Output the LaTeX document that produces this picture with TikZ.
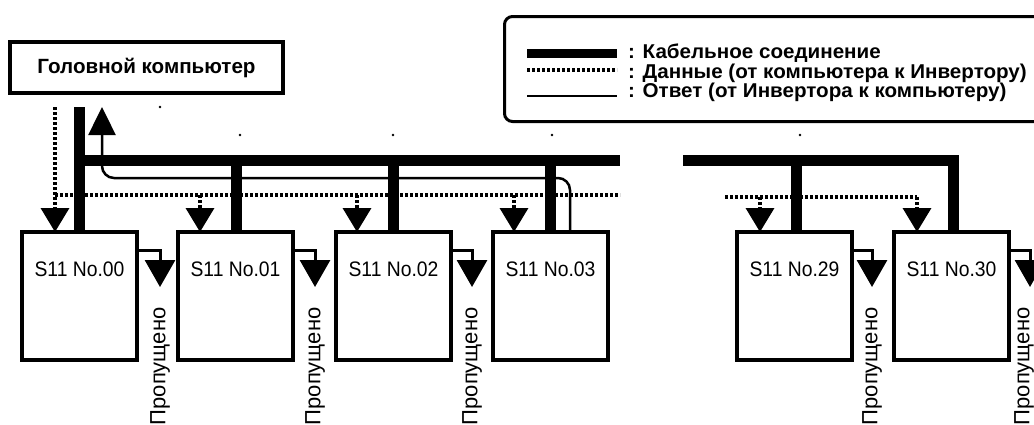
\documentclass[tikz,border=0pt]{standalone}
\usepackage{fontspec}
\setmainfont{Liberation Sans}
\newfontfamily\narrowfont[FakeStretch=0.92]{Liberation Sans}
\newfontfamily\widefont[FakeStretch=1.03]{Liberation Sans}
\usetikzlibrary{arrows.meta}

\begin{document}
\begin{tikzpicture}[
  x=1pt, y=-1pt,
  hostbox/.style={draw, line width=4.5pt, minimum width=273pt, minimum height=51pt, inner sep=0pt, font=\bfseries\fontsize{20.6}{22}\selectfont},
  unit/.style={draw, line width=3.5pt, minimum width=115pt, minimum height=128pt, anchor=north west, inner sep=0pt, outer sep=0pt},
  unitlabel/.style={anchor=north, yshift=-26pt, font=\narrowfont\fontsize{21}{23}\selectfont},
  cable/.style={line width=11pt},
  data/.style={line width=3.5pt, dash pattern=on 2.5pt off 2.5pt},
  datatip/.style={-{Triangle[width=28pt, length=24pt]}},
  reply/.style={line width=2.5pt, rounded corners=12pt, -{Triangle[width=27pt, length=28pt]}},
  skip/.style={line width=3pt, -{Triangle[width=30pt, length=27pt]}},
  skiptext/.style={rotate=90, anchor=east, font=\fontsize{22}{24}\selectfont},
  legendframe/.style={draw, line width=3pt, rounded corners=8pt, minimum width=545pt, minimum height=105pt, anchor=north west},
  legendtext/.style={anchor=base west, inner sep=2pt, font=\widefont\bfseries\fontsize{20}{21}\selectfont}
]
\useasboundingbox (0,0) rectangle (1034,424);

% host and inverters
\node[hostbox] (host) at (146.5,67.5) {Головной компьютер};

\node[unit, label={[unitlabel]north:S11 No.00}] (u00) at (22,232) {};
\node[unit, label={[unitlabel]north:S11 No.01}] (u01) at (178,232) {};
\node[unit, label={[unitlabel]north:S11 No.02}] (u02) at (336,232) {};
\node[unit, label={[unitlabel]north:S11 No.03}] (u03) at (493,232) {};
\node[unit, label={[unitlabel]north:S11 No.29}] (u29) at (737,232) {};
\node[unit, label={[unitlabel]north:S11 No.30}] (u30) at (894,232) {};

% cable bus
\coordinate (top00) at (79,107);
\coordinate (busL) at (620,160);
\coordinate (busR) at (683,160);
\coordinate (t01) at (236,160);
\coordinate (t02) at (393,160);
\coordinate (t03) at (550,160);
\coordinate (t29) at (796,160);
\coordinate (t30) at (953,160);
\draw[cable] (top00) -- (top00 |- u00.north);
\draw[cable] (top00 |- busL) -- (busL);
\draw[cable] (t01) -- (t01 |- u01.north);
\draw[cable] (t02) -- (t02 |- u02.north);
\draw[cable] (t03) -- (t03 |- u03.north);
\draw[cable] (busR) -- (t30) -- (t30 |- u30.north);
\draw[cable] (t29) -- (t29 |- u29.north);

% data: computer to inverters
\coordinate (d00) at (55,107);
\coordinate (d01) at (200,195);
\coordinate (d02) at (357,195);
\coordinate (d03) at (514,195);
\coordinate (dataL) at (55,195);
\coordinate (dataE) at (620,195);
\coordinate (dataR) at (725,197);
\coordinate (d29) at (760,197);
\coordinate (d30) at (917,197);
\draw[data] (dataL) -- (dataE);
\draw[data] (dataR) -- (d30);
\draw[data, datatip] (d00) -- (d00 |- u00.north);
\draw[data, datatip] (d01) -- (d01 |- u01.north);
\draw[data, datatip] (d02) -- (d02 |- u02.north);
\draw[data, datatip] (d03) -- (d03 |- u03.north);
\draw[data, datatip] (d29) -- (d29 |- u29.north);
\draw[data, datatip] (d30) -- (d30 |- u30.north);

% reply: inverter to computer
\coordinate (r03) at (570,0);
\coordinate (r00) at (102,178);
\coordinate (rtip) at (102,107);
\draw[reply] (r03 |- u03.north) |- (r00) -- (rtip);

% skipped stations
\coordinate (sy) at (0,250);
\coordinate (s00) at (160,287);
\coordinate (s01) at (315,287);
\coordinate (s02) at (472,287);
\coordinate (s29) at (872,287);
\coordinate (s30) at (1030,287);
\draw[skip] (u00.east |- sy) -| (s00);
\draw[skip] (u01.east |- sy) -| (s01);
\draw[skip] (u02.east |- sy) -| (s02);
\draw[skip] (u29.east |- sy) -| (s29);
\draw[skip] (u30.east |- sy) -| (s30);
\node[skiptext] (p00) at ([yshift=-17pt]s00) {Пропущено};
\node[skiptext] (p01) at ([yshift=-17pt]s01) {Пропущено};
\node[skiptext] (p02) at ([yshift=-17pt]s02) {Пропущено};
\node[skiptext] (p29) at ([yshift=-17pt]s29) {Пропущено};
\node[skiptext] (p30) at ([xshift=-6pt, yshift=-17pt]s30) {Пропущено};

% stray marks
\fill (160,107) circle (1.3pt);
\fill (240,135) circle (1.3pt);
\fill (393,135) circle (1.3pt);
\fill (552,135) circle (1.3pt);
\fill (800,135) circle (1.3pt);

% legend
\node[legendframe] (legend) at (503,15) {};
\coordinate (k1) at (527,53);
\coordinate (k2) at (527,70);
\coordinate (k3) at (527,96);
\draw[line width=9pt] (k1) -- ++(90,0);
\draw[data] (k2) -- ++(90,0);
\draw[line width=2.5pt] (k3) -- ++(90,0);
\node[legendtext] (l1) at (626,58.5) {: Кабельное соединение};
\node[legendtext] (l2) at (626,78) {: Данные (от компьютера к Инвертору)};
\node[legendtext] (l3) at (626,97) {: Ответ (от Инвертора к компьютеру)};
\end{tikzpicture}
\end{document}
